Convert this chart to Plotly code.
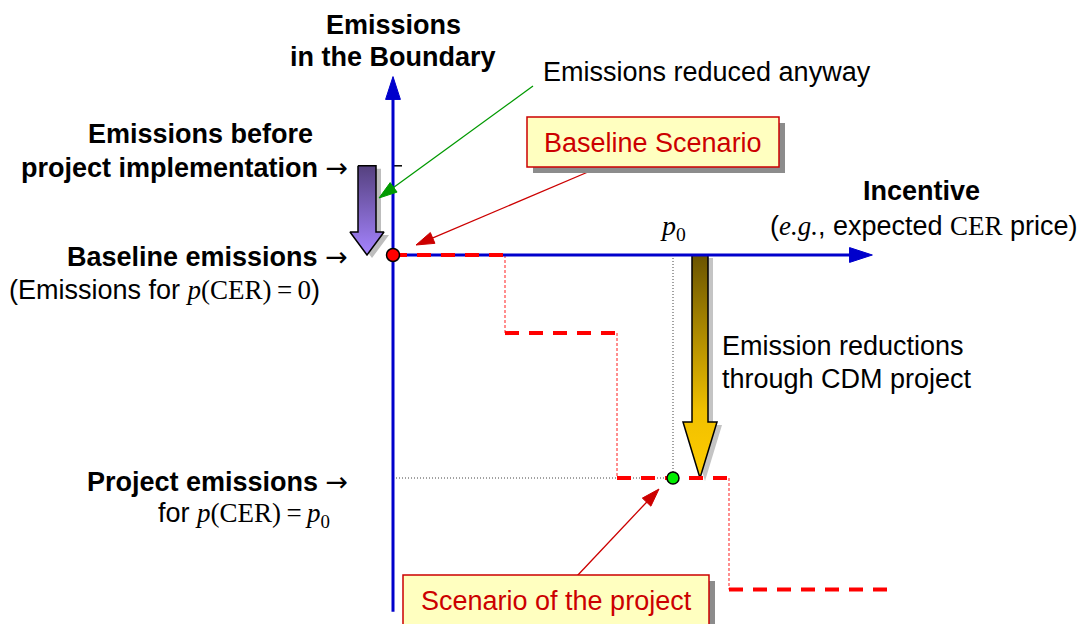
import plotly.graph_objects as go

# ---------------- data (abstract diagram units) ----------------
incentive_thresholds = [0, 10, 20, 30, 44.2]   # incentive levels where emissions step down
emission_levels = [100, 65, 0, -50]            # emission level on each incentive interval
baseline_emission = 100                        # emissions for p(CER)=0
before_emission = 140                          # emissions before project implementation
p0 = 25                                        # expected CER price
project_emission = 0                           # emissions for p(CER)=p0
axis_x_end = 42.8
axis_y_top = 180
axis_y_bottom = -60

# ---------------- canvas mapping ----------------
W, H = 1087, 624
PAGE = 8                  # default page margin of the html body
X0PX, SX = 393, 11.2      # screen pixel of incentive 0, pixels per unit
Y0PX, SY = 255, 2.23      # screen pixel of baseline emission, pixels per unit


def ux(px):
    return (px - X0PX) / SX


def uy(py):
    return baseline_emission - (py - Y0PX) / SY


FONT = "Liberation Sans"
SERIF = "Liberation Serif"
RED = "#ff0000"
DARKRED = "#cc0000"
BLUE = "#0000cc"

fig = go.Figure()


def down_arrow(cx, ytop, ytip, shaft_hw_px, head_hw_px, head_len_px, sx_px=0, sy_px=0):
    sw = shaft_hw_px / SX
    hw = head_hw_px / SX
    hl = head_len_px / SY
    ox = sx_px / SX
    oy = -sy_px / SY
    yneck = ytip + hl
    xs = [cx - sw, cx + sw, cx + sw, cx + hw, cx, cx - hw, cx - sw, cx - sw]
    ys = [ytop, ytop, yneck, yneck, ytip, yneck, yneck, ytop]
    return [x + ox for x in xs], [y + oy for y in ys]


# purple arrow (before -> baseline)
purple_x = ux(367)
sx, sy = down_arrow(purple_x, before_emission, baseline_emission, 9, 17, 23, 5, 3)
fig.add_trace(go.Scatter(x=sx, y=sy, fill="toself", fillcolor="#bdbdbd",
                         line=dict(width=0), mode="lines", hoverinfo="skip"))
ax_, ay_ = down_arrow(purple_x, before_emission, baseline_emission, 9, 17, 23)
fig.add_trace(go.Scatter(x=ax_, y=ay_, fill="toself",
                         fillgradient=dict(type="vertical",
                                           colorscale=[[0, "#a584ff"], [1, "#55417f"]]),
                         line=dict(color="black", width=1.5), mode="lines", hoverinfo="skip"))

# gold arrow (baseline -> project at p0)
gold_x = ux(700)
sx, sy = down_arrow(gold_x, baseline_emission, project_emission, 8, 17, 56, 5, 3)
fig.add_trace(go.Scatter(x=sx, y=sy, fill="toself", fillcolor="#c4c4c4",
                         line=dict(width=0), mode="lines", hoverinfo="skip"))
ax_, ay_ = down_arrow(gold_x, baseline_emission, project_emission, 8, 17, 56)
fig.add_trace(go.Scatter(x=ax_, y=ay_, fill="toself",
                         fillgradient=dict(type="vertical",
                                           colorscale=[[0, "#ffcc00"], [0.3, "#f0c000"], [1, "#6a5400"]]),
                         line=dict(color="black", width=1.5), mode="lines", hoverinfo="skip"))

# ---------------- guide lines ----------------
fig.add_trace(go.Scatter(x=[p0, p0], y=[baseline_emission, project_emission], mode="lines",
                         line=dict(color="#444444", width=1, dash="1px,2px"), hoverinfo="skip"))
fig.add_trace(go.Scatter(x=[0, p0], y=[project_emission, project_emission], mode="lines",
                         line=dict(color="#444444", width=1, dash="1px,2px"), hoverinfo="skip"))

# ---------------- step function ----------------
hx, hy = [], []
for i, lev in enumerate(emission_levels):
    hx += [incentive_thresholds[i], incentive_thresholds[i + 1], None]
    hy += [lev, lev, None]
vx, vy = [], []
for i in range(len(emission_levels) - 1):
    t = incentive_thresholds[i + 1]
    vx += [t, t, None]
    vy += [emission_levels[i], emission_levels[i + 1], None]

fig.add_trace(go.Scatter(x=vx, y=vy, mode="lines",
                         line=dict(color="#ff6a6a", width=1.5, dash="3px,2px"), hoverinfo="skip"))

# ---------------- tick on emissions axis ----------------
fig.add_trace(go.Scatter(x=[0, 9 / SX], y=[before_emission, before_emission], mode="lines",
                         line=dict(color="black", width=1.5), hoverinfo="skip"))


# ---------------- arrows drawn as line + arrow marker ----------------
def arrow_trace(xs, ys, color, width, head):
    return go.Scatter(x=xs, y=ys, mode="lines+markers", cliponaxis=False, hoverinfo="skip",
                      line=dict(color=color, width=width),
                      marker=dict(symbol="arrow", angleref="previous", size=[0, head],
                                  opacity=1, color=color, line=dict(width=1, color=color)))


# axes
fig.add_trace(arrow_trace([0, 0], [axis_y_bottom, axis_y_top], BLUE, 3, 24))
fig.add_trace(arrow_trace([0, axis_x_end], [baseline_emission, baseline_emission], BLUE, 3, 24))

# step-function horizontals drawn over the axis
fig.add_trace(go.Scatter(x=hx, y=hy, mode="lines",
                         line=dict(color=RED, width=4, dash="14px,10px"), hoverinfo="skip"))

# pointers (screen-pixel endpoints converted to diagram units)
pointer_segments = [((533, 86), (379, 198), "#009900"),
                    ((595, 169), (416, 245), DARKRED),
                    ((577, 576), (659, 489), DARKRED)]
for (x1, y1), (x2, y2), col in pointer_segments:
    fig.add_trace(arrow_trace([ux(x1), ux(x2)], [uy(y1), uy(y2)], col, 1.3, 19))

# points
fig.add_trace(go.Scatter(x=[0], y=[baseline_emission], mode="markers", cliponaxis=False,
                         marker=dict(color=RED, size=13, line=dict(color="black", width=1.5)),
                         hoverinfo="skip"))
fig.add_trace(go.Scatter(x=[p0], y=[project_emission], mode="markers", cliponaxis=False,
                         marker=dict(color="#00ee00", size=12, line=dict(color="black", width=1.5)),
                         hoverinfo="skip"))

# boxes
shapes = []
for (x1, y1, x2, y2) in [(527, 117, 779, 167), (403, 575, 709, 640)]:
    shapes.append(dict(type="rect", xref="x", yref="y", x0=ux(x1 + 6), x1=ux(x2 + 6),
                       y0=uy(y1 + 6), y1=uy(y2 + 6), fillcolor="#8c8c8c", line=dict(width=0),
                       layer="above"))
    shapes.append(dict(type="rect", xref="x", yref="y", x0=ux(x1), x1=ux(x2), y0=uy(y1),
                       y1=uy(y2), fillcolor="#ffffc0", line=dict(color=DARKRED, width=1.5),
                       layer="above"))


def txt(px, py, text, anchor="center", size=27, color="black", family=FONT):
    return dict(x=ux(px), y=uy(py), xref="x", yref="y", text=text, showarrow=False,
                xanchor=anchor, yanchor="middle", font=dict(family=family, size=size, color=color))


def serif(s):
    return f"<span style='font-family:{SERIF}'>{s}</span>"


ARROW = "<span style='font-family:DejaVu Sans;font-weight:normal'>→</span>"

annotations = [
    txt(393, 25, "<b>Emissions</b>"),
    txt(393, 57, "<b>in the Boundary</b>"),
    txt(541, 72, "Emissions reduced anyway", "left"),
    txt(653, 143, "Baseline Scenario", color=DARKRED),
    txt(556, 601, "Scenario of the project", color=DARKRED),
    txt(315, 134, "<b>Emissions before</b>", "right"),
    txt(350, 167, "<b>project implementation </b>" + ARROW, "right"),
    txt(350, 256, "<b>Baseline emissions </b>" + ARROW, "right"),
    txt(322, 290, "(Emissions for " + serif("<i>p</i>(CER)\u2009=\u20090") + ")", "right"),
    txt(350, 481, "<b>Project emissions </b>" + ARROW, "right"),
    txt(332, 515, "for " + serif("<i>p</i>(CER)\u2009=\u2009<i>p</i><sub>0</sub>"), "right"),
    txt(921, 191, "<b>Incentive</b>"),
    txt(1080, 226, "(" + serif("<i>e.g.</i>") + ", expected " + serif("CER") + " price)", "right"),
    txt(673, 227, "<i>p</i><sub>0</sub>", size=28, family=SERIF),
    txt(720, 346, "Emission reductions", "left"),
    txt(720, 379, "through CDM project", "left"),
]

fig.update_layout(
    width=W - PAGE, height=H - PAGE, margin=dict(l=0, r=0, t=0, b=0),
    paper_bgcolor="white", plot_bgcolor="white", showlegend=False,
    xaxis=dict(range=[ux(PAGE), ux(W)], visible=False, showgrid=False, zeroline=False,
               fixedrange=True),
    yaxis=dict(range=[uy(H), uy(PAGE)], visible=False, showgrid=False, zeroline=False,
               fixedrange=True),
    annotations=annotations, shapes=shapes,
)

fig.write_html("out.html")
